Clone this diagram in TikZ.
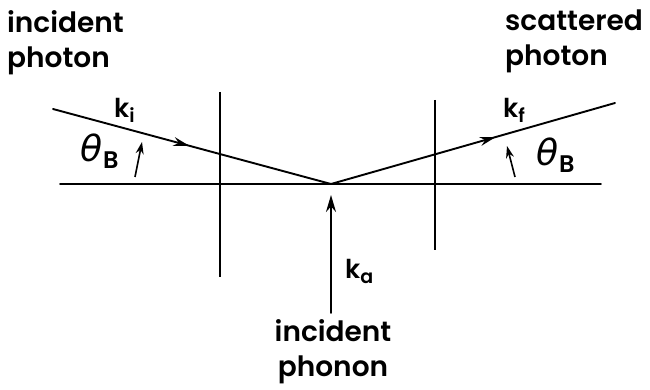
\documentclass[tikz,border=0pt]{standalone}
\usepackage{fontspec}
\setmainfont{Poppins}[UprightFont=* SemiBold]
\newfontfamily\thfont{DejaVu Sans}
\usetikzlibrary{arrows.meta,decorations.markings}
\tikzset{
  mainline/.style={line width=1.9pt, line cap=round},
  thinline/.style={line width=1.3pt},
  midarrow/.style={postaction={decorate,decoration={markings,
      mark=at position #1 with {\arrow{Stealth[length=16pt,width=9pt]}}}}},
  lbl/.style={inner sep=0pt, font=\fontsize{28}{35}\selectfont, align=left},
  klbl/.style={inner sep=0pt, font=\fontsize{26}{30}\selectfont},
  thlbl/.style={inner sep=0pt},
  smallarrow/.style={line width=1.6pt, -{Stealth[length=12pt,width=8pt]}},
}
\newcommand{\ksub}[1]{{\fontsize{19}{20}\selectfont\raisebox{-5pt}{#1}}}
\newcommand{\thetaB}{{\thfont\itshape\fontsize{36}{40}\selectfont θ}\kern1pt{\fontsize{24}{26}\selectfont\raisebox{-6pt}{B}}}
\begin{document}
\begin{tikzpicture}[x=1pt,y=-1pt]
\useasboundingbox (0,0) rectangle (650,390);
\coordinate (O) at (331,184);
\coordinate (L) at (60,184);
\coordinate (R) at (601,184);
\coordinate (KI) at (53,109);
\coordinate (KF) at (615,103);
\coordinate (V1t) at (220,92);
\coordinate (V1b) at (220,277);
\coordinate (V2t) at (435,100);
\coordinate (V2b) at (435,250);
\coordinate (Pb) at (331,313);
\coordinate (Pt) at (331,195);
\coordinate (A1s) at (135,177);
\coordinate (A1e) at (142,142);
\coordinate (A2s) at (515,177);
\coordinate (A2e) at (507,146);

\draw[mainline] (L) -- (R);
\draw[thinline] (V1t) -- (V1b);
\draw[thinline] (V2t) -- (V2b);
\draw[mainline, midarrow=0.49] (KI) -- (O);
\draw[mainline, midarrow=0.58] (O) -- (KF);
\draw[mainline, -{Stealth[length=17pt,width=10pt]}] (Pb) -- (Pt);
\draw[smallarrow] (A1s) -- (A1e);
\draw[smallarrow] (A2s) -- (A2e);

\node[lbl, anchor=north west] (tin) at (7,10) {incident\\photon};
\node[lbl, anchor=north west] (tsc) at (505,10) {scattered\\photon};
\node[lbl, anchor=north, align=center] (tph) at (333,319) {incident\\phonon};

\node[klbl, anchor=base west] (ki) at (114,118) {k\ksub{i}};
\node[klbl, anchor=base west] (kf) at (503,118) {k\ksub{f}};
\node[klbl, anchor=base west] (ka) at (345,278) {k\ksub{a}};

\node[thlbl, anchor=base west] (th1) at (80,162) {\thetaB};
\node[thlbl, anchor=base west] (th2) at (536,166) {\thetaB};
\end{tikzpicture}
\end{document}
